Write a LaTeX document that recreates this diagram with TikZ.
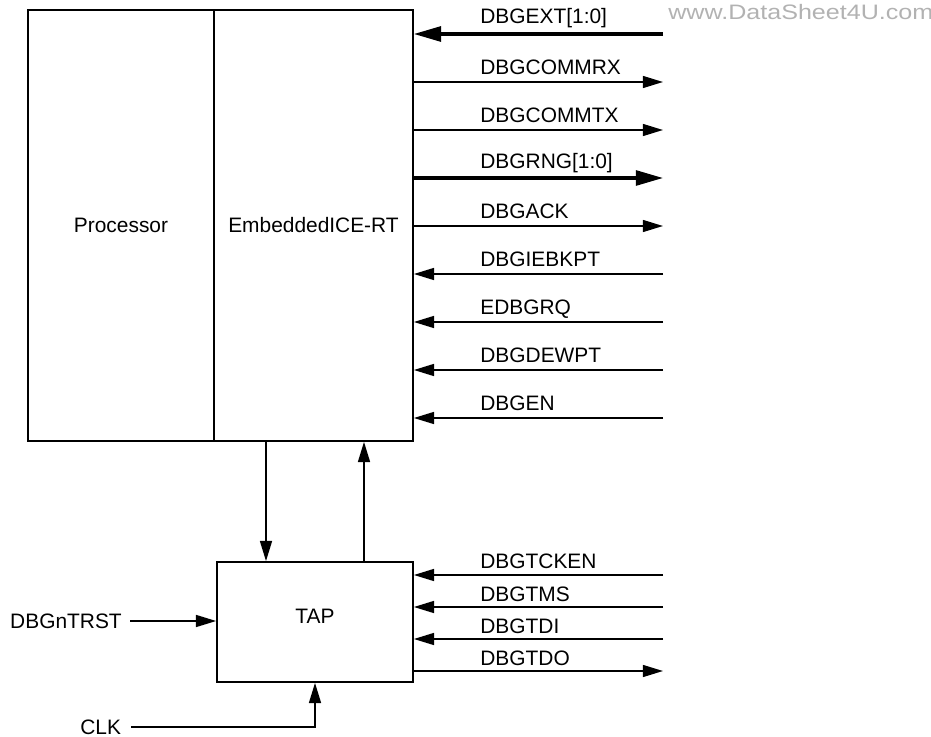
\documentclass[tikz,border=0pt]{standalone}
\usepackage{fontspec}
\setmainfont{Liberation Sans}
\newfontfamily\webfont{Liberation Sans}[FakeStretch=1.2]
\usetikzlibrary{arrows.meta}
\newcommand{\sigfont}{\fontsize{11.9}{14}\selectfont}

\begin{document}
\begin{tikzpicture}[
        x=0.02cm, y=-0.02cm,
        block/.style={draw, line width=1pt, rectangle, inner sep=0pt, font=\sigfont},
        siglabel/.style={anchor=base west, inner sep=0pt, font=\sigfont},
        sigline/.style={line width=0.95pt, -{Triangle[length=11.5pt, width=6.8pt]}},
        busline/.style={line width=1.8pt, -{Triangle[length=15.5pt, width=8.5pt]}}
    ]
    \useasboundingbox (0,0) rectangle (931,737);

    \node[block, minimum width=3.72cm, minimum height=8.62cm] (proc) at (121,225.5) {Processor};
    \node[block, minimum width=3.98cm, minimum height=8.62cm] (ice) at (313.5,225.5) {EmbeddedICE-RT};
    \node[block, minimum width=3.92cm, minimum height=2.4cm, text depth=0.24cm] (tap) at (315,622) {TAP};

    \node[anchor=base west, inner sep=0pt, text=gray!60, font=\webfont\fontsize{11.9}{14}\selectfont] (web) at (668,19.5) {www.DataSheet4U.com};

    % debug signals on the right
    \coordinate (ext) at (663,34);
    \coordinate (commrx) at (663,82);
    \coordinate (commtx) at (663,130);
    \coordinate (rng) at (663,178);
    \coordinate (ack) at (663,226);
    \coordinate (iebkpt) at (663,274);
    \coordinate (edbgrq) at (663,322);
    \coordinate (dewpt) at (663,370);
    \coordinate (en) at (663,418);

    \draw[busline] (ext) -- (ext -| ice.east);
    \draw[sigline] (commrx -| ice.east) -- (commrx);
    \draw[sigline] (commtx -| ice.east) -- (commtx);
    \draw[busline] (rng -| ice.east) -- (rng);
    \draw[sigline] (ack -| ice.east) -- (ack);
    \draw[sigline] (iebkpt) -- (iebkpt -| ice.east);
    \draw[sigline] (edbgrq) -- (edbgrq -| ice.east);
    \draw[sigline] (dewpt) -- (dewpt -| ice.east);
    \draw[sigline] (en) -- (en -| ice.east);

    \node[siglabel] (extlbl) at (480,24) {DBGEXT[1:0]};
    \node[siglabel] (commrxlbl) at (480,74) {DBGCOMMRX};
    \node[siglabel] (commtxlbl) at (480,122) {DBGCOMMTX};
    \node[siglabel] (rnglbl) at (480,168) {DBGRNG[1:0]};
    \node[siglabel] (acklbl) at (480,218) {DBGACK};
    \node[siglabel] (iebkptlbl) at (480,266) {DBGIEBKPT};
    \node[siglabel] (edbgrqlbl) at (480,314) {EDBGRQ};
    \node[siglabel] (dewptlbl) at (480,362) {DBGDEWPT};
    \node[siglabel] (enlbl) at (480,410) {DBGEN};

    % ICE <-> TAP
    \coordinate (down) at (266,0);
    \coordinate (up) at (364,0);
    \draw[sigline] (down |- ice.south) -- (down |- tap.north);
    \draw[sigline] (up |- tap.north) -- (up |- ice.south);

    % TAP signals
    \coordinate (tcken) at (663,575);
    \coordinate (tms) at (663,607);
    \coordinate (tdi) at (663,639);
    \coordinate (tdo) at (663,671);

    \draw[sigline] (tcken) -- (tcken -| tap.east);
    \draw[sigline] (tms) -- (tms -| tap.east);
    \draw[sigline] (tdi) -- (tdi -| tap.east);
    \draw[sigline] (tdo -| tap.east) -- (tdo);

    \node[siglabel] (tckenlbl) at (480,568) {DBGTCKEN};
    \node[siglabel] (tmslbl) at (480,601) {DBGTMS};
    \node[siglabel] (tdilbl) at (480,633) {DBGTDI};
    \node[siglabel] (tdolbl) at (480,665) {DBGTDO};

    \node[anchor=east, inner xsep=4.5pt, inner ysep=0pt, font=\sigfont] (trst) at (130,621) {DBGnTRST};
    \node[anchor=east, inner xsep=5.5pt, inner ysep=0pt, font=\sigfont] (clk) at (131,727) {CLK};
    \draw[sigline] (trst.east) -- (trst.east -| tap.west);
    \draw[sigline] (clk.east) -| (tap.south);

\end{tikzpicture}
\end{document}
